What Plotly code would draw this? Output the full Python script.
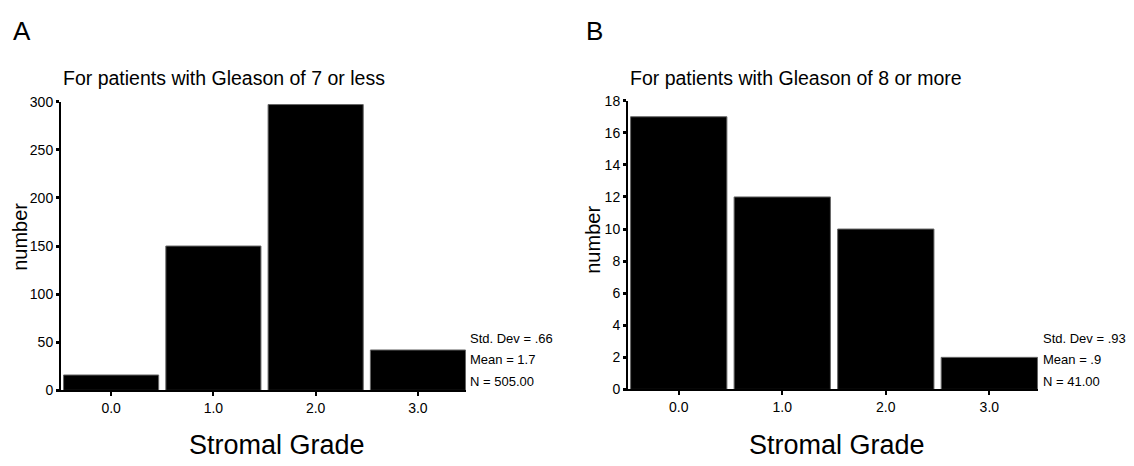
import plotly.graph_objects as go

grades = [0, 1, 2, 3]
grade_labels = ["0.0", "1.0", "2.0", "3.0"]
counts_a = [16, 150, 297, 42]
counts_b = [17, 12, 10, 2]
stats_a = ["Std. Dev = .66", "Mean = 1.7", "N = 505.00"]
stats_b = ["Std. Dev = .93", "Mean = .9", "N = 41.00"]
ticks_a = [0, 50, 100, 150, 200, 250, 300]
ticks_b = [0, 2, 4, 6, 8, 10, 12, 14, 16, 18]

W, H = 1134, 466
FONT = "Liberation Sans, Arial, sans-serif"

def px(x):
    return x / W

def py(y):
    return 1 - y / H

fig = go.Figure()
bar_style = dict(marker=dict(color="black", line=dict(color="#666666", width=1)),
                 width=0.93, showlegend=False, hoverinfo="skip")
fig.add_trace(go.Bar(x=grades, y=counts_a, xaxis="x", yaxis="y", **bar_style))
fig.add_trace(go.Bar(x=grades, y=counts_b, xaxis="x2", yaxis="y2", **bar_style))

xcommon = dict(range=[-0.49, 3.47], tickvals=grades, ticktext=grade_labels,
               showline=True, linecolor="black", linewidth=1.5, ticks="outside",
               ticklen=4, tickwidth=2, tickcolor="black", showgrid=False, zeroline=False,
               tickfont=dict(size=14, color="black", family=FONT), fixedrange=True)
ycommon = dict(showline=True, linecolor="black", linewidth=2, ticks="outside",
               ticklen=3, tickwidth=3, tickcolor="black", showgrid=False, zeroline=False,
               tickfont=dict(size=14, color="black", family=FONT), fixedrange=True)

fig.update_layout(
    width=W, height=H,
    margin=dict(l=0, r=0, t=0, b=0),
    paper_bgcolor="white", plot_bgcolor="white",
    font=dict(family=FONT, color="black"),
    bargap=0,
    xaxis=dict(domain=[px(61), px(466)], anchor="y", **xcommon),
    yaxis=dict(domain=[py(396), py(97)], anchor="x", range=[0, 300], tickvals=ticks_a, **ycommon),
    xaxis2=dict(domain=[px(628), px(1038)], anchor="y2", **xcommon),
    yaxis2=dict(domain=[py(395), py(96)], anchor="x2", range=[0, 18], tickvals=ticks_b, **ycommon),
)

ann = []
def text(x, y, s, size, xanchor="left", angle=0):
    ann.append(dict(x=px(x), y=py(y), xref="paper", yref="paper", text=s, showarrow=False,
                    xanchor=xanchor, yanchor="middle", textangle=angle, borderpad=0,
                    font=dict(size=size, color="black", family=FONT)))

text(12, 24, "A", 26)
text(585, 24, "B", 26)
text(62, 73, "For patients with Gleason of 7 or less", 19.5)
text(629, 73, "For patients with Gleason of 8 or more", 19.5)
text(20, 237, "number", 20, xanchor="center", angle=-90)
text(593, 240, "number", 20, xanchor="center", angle=-90)
text(277, 453, "Stromal Grade", 27, xanchor="center")
text(837, 453, "Stromal Grade", 27, xanchor="center")
for i, s in enumerate(stats_a):
    text(469, 342 + 22.5 * i, s, 13)
for i, s in enumerate(stats_b):
    text(1042, 342 + 22.5 * i, s, 13)

fig.update_layout(annotations=ann)
fig.write_html(
    "out.html",
    config={"displayModeBar": False, "staticPlot": True},
    post_script="document.body.style.margin='0';document.body.style.overflow='hidden';",
)
